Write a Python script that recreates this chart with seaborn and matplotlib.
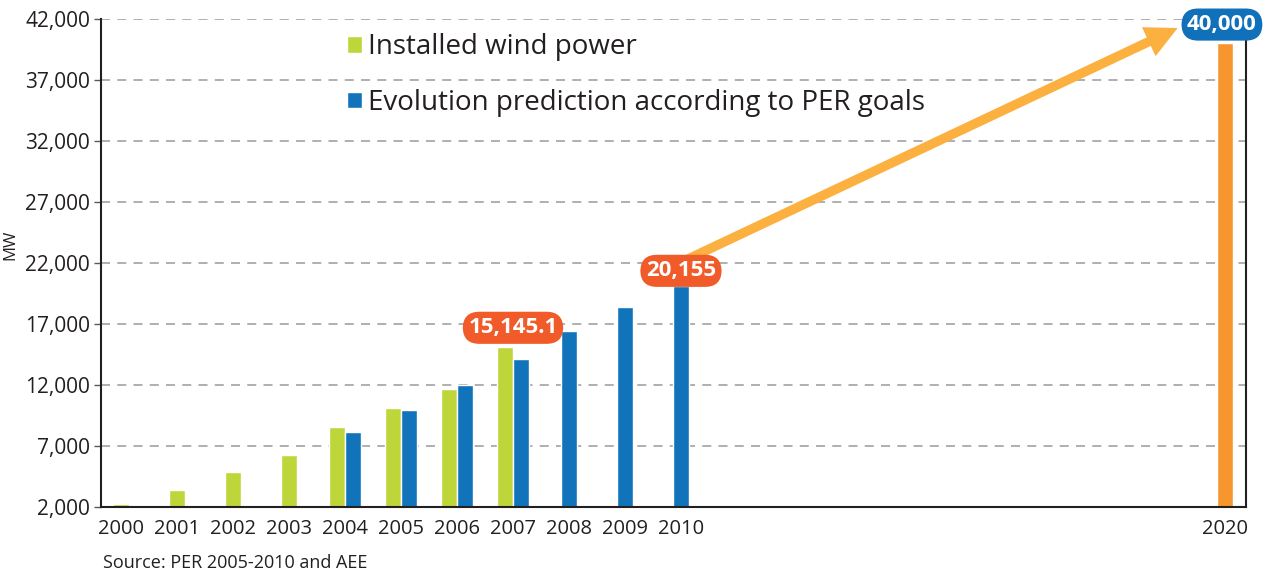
import numpy as np
import pandas as pd
import matplotlib.pyplot as plt
import matplotlib.ticker as mticker
import seaborn as sns

# values (MW)
years = [2000, 2001, 2002, 2003, 2004, 2005, 2006, 2007, 2008, 2009, 2010, 2020]
installed_years = [2000, 2001, 2002, 2003, 2004, 2005, 2006, 2007]
installed_mw = [2240, 3390, 4870, 6260, 8560, 10120, 11670, 15145.1]
per_years = [2004, 2005, 2006, 2007, 2008, 2009, 2010]
per_mw = [8150, 9950, 12000, 14130, 16430, 18390, 20155]
goal_years = [2020]
goal_mw = [40000]

series_names = ['Installed wind power',
                'Evolution prediction according to PER goals',
                'PER 2020 goal']
colors = {series_names[0]: '#BED63A', series_names[1]: '#1174BB', series_names[2]: '#F7962F'}
dark = '#231F20'

# 2010 -> 2020 gap is squeezed on the axis
BREAK_AT = 2010
BREAK_SLOTS = 9.71


def slot(y):
    return y - 2000 if y <= BREAK_AT else (BREAK_AT - 2000) + BREAK_SLOTS


rows = []
for name, ys, vals in [(series_names[0], installed_years, installed_mw),
                       (series_names[1], per_years, per_mw),
                       (series_names[2], goal_years, goal_mw)]:
    for y, v in zip(ys, vals):
        rows.append({'year': y, 'pos': slot(y), 'series': name, 'mw': v})
df = pd.DataFrame(rows)
paired = set(installed_years) & set(per_years)
df_pair = df[df['year'].isin(paired)]
df_single = df[~df['year'].isin(paired)]

sns.set_theme(style='white')
plt.rcParams['font.family'] = ['Open Sans', 'DejaVu Sans']

fig = plt.figure(figsize=(12.76, 5.74), dpi=100)
ax = fig.add_axes([101 / 1276, 1 - 507 / 574, 1145 / 1276, 488 / 574])

bar_w = 0.286
sns.barplot(data=df_single, x='pos', y='mw', hue='series', hue_order=series_names,
            palette=colors, native_scale=True, dodge=False, width=bar_w,
            errorbar=None, saturation=1, legend=False, ax=ax)
sns.barplot(data=df_pair, x='pos', y='mw', hue='series', hue_order=series_names[:2],
            palette=colors, native_scale=True, dodge=True, width=2 * bar_w,
            errorbar=None, saturation=1, ax=ax)

ax.set_ylim(2000, 42000)
ax.set_xlim(-0.357, 20.09)
ax.set_yticks(np.arange(2000, 42001, 5000))
ax.yaxis.set_major_formatter(mticker.StrMethodFormatter('{x:,.0f}'))
ax.set_xticks([slot(y) for y in years])
ax.set_xticklabels([str(y) for y in years])
ax.tick_params(axis='x', length=0, pad=9, labelsize=14.5, labelcolor=dark)
ax.tick_params(axis='y', length=5, width=1, color='#58595B', pad=3, labelsize=15,
               labelcolor=dark, left=True)
ax.set_xlabel('')
ax.set_ylabel('MW', fontsize=12, color=dark)
ax.yaxis.set_label_coords(-0.0725, 0.537)

ax.yaxis.grid(True, linestyle=(0, (5, 4)), color='#A7A9AC', lw=1.3)
ax.set_axisbelow(True)
ax.spines['top'].set_visible(False)
for s in ['left', 'bottom', 'right']:
    ax.spines[s].set_color(dark)
    ax.spines[s].set_linewidth(1.5)

sns.move_legend(ax, 'upper left', bbox_to_anchor=(0.2148, 0.971), title=None,
                frameon=False, fontsize=20, handlelength=0.55, handleheight=0.55,
                handletextpad=0.2, labelspacing=1.0, borderaxespad=0., borderpad=0.)
for t in ax.get_legend().get_texts():
    t.set_color(dark)

# growth arrow from 2010 to the 2020 goal
ax.annotate('', xy=(slot(2020) - 0.84, goal_mw[0] + 1260),
            xytext=(slot(2010), per_mw[-1] + 1900),
            arrowprops=dict(arrowstyle='simple,head_length=1.15,head_width=1.15,tail_width=0.34',
                            mutation_scale=20, color='#FBB040', lw=0,
                            shrinkA=0, shrinkB=0), zorder=4)

red = '#F15A29'
label_kw = dict(textcoords='offset points', ha='center', va='bottom', color='white',
                fontsize=16, fontweight='bold', zorder=5)
pill = 'round,pad=0.25,rounding_size=0.75'
ax.annotate('{:,.1f}'.format(installed_mw[-1]), xy=(slot(2007), installed_mw[-1]),
            xytext=(0, 6), bbox=dict(boxstyle=pill, fc=red, ec='none'), **label_kw)
ax.annotate('{:,.0f}'.format(per_mw[-1]), xy=(slot(2010), per_mw[-1]),
            xytext=(0, 3), bbox=dict(boxstyle=pill, fc=red, ec='none'), **label_kw)
ax.annotate('{:,.0f}'.format(goal_mw[0]), xy=(slot(2020), goal_mw[0]),
            xytext=(-2, 6), bbox=dict(boxstyle=pill, fc='#1170BA', ec='none'),
            annotation_clip=False, **label_kw)

fig.text(103 / 1276, 1 - 563 / 574, 'Source: PER 2005-2010 and AEE', fontsize=13,
         color=dark, va='center', ha='left')

fig.savefig('out.png', dpi=100)
